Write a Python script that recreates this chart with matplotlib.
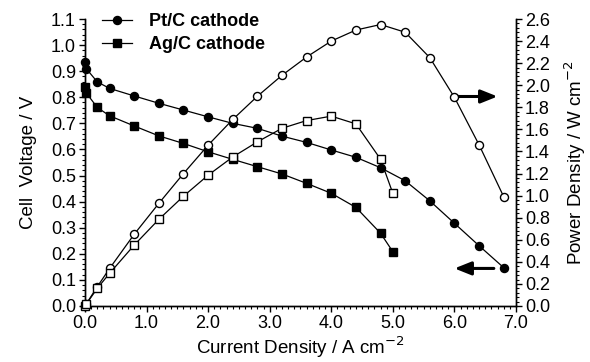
import matplotlib
matplotlib.use("Agg")
import matplotlib.pyplot as plt
from matplotlib.ticker import MultipleLocator, FormatStrFormatter

plt.rcParams['font.family'] = ['Liberation Sans', 'DejaVu Sans']

# Pt/C cathode
pt_current = [0.0, 0.02, 0.2, 0.4, 0.8, 1.2, 1.6, 2.0, 2.4, 2.8, 3.2, 3.6, 4.0, 4.4, 4.8, 5.2, 5.6, 6.0, 6.4, 6.8]
pt_voltage = [0.936, 0.91, 0.859, 0.834, 0.805, 0.777, 0.751, 0.725, 0.70, 0.681, 0.651, 0.627, 0.598, 0.570, 0.530, 0.480, 0.403, 0.317, 0.231, 0.147]
pt_power = [0.0, 0.018, 0.175, 0.34, 0.65, 0.93, 1.20, 1.457, 1.69, 1.90, 2.09, 2.256, 2.40, 2.50, 2.55, 2.48, 2.25, 1.89, 1.46, 0.99]

# Ag/C cathode
ag_current = [0.0, 0.02, 0.2, 0.4, 0.8, 1.2, 1.6, 2.0, 2.4, 2.8, 3.2, 3.6, 4.0, 4.4, 4.8, 5.0]
ag_voltage = [0.838, 0.817, 0.761, 0.729, 0.690, 0.652, 0.623, 0.591, 0.562, 0.534, 0.506, 0.470, 0.432, 0.378, 0.279, 0.208]
ag_power = [0.0, 0.016, 0.16, 0.296, 0.552, 0.785, 0.995, 1.185, 1.35, 1.487, 1.61, 1.68, 1.72, 1.65, 1.33, 1.02]

fig = plt.figure(figsize=(5.9, 3.62), dpi=100)
ax = fig.add_axes([0.144, 0.1547, 0.8746 - 0.144, 0.9475 - 0.1547])
ax2 = ax.twinx()

lw = 0.9
ms = 5.8
ax.plot(pt_current, pt_voltage, '-o', color='black', lw=lw, ms=ms, label='Pt/C cathode', clip_on=False, zorder=3)
ax.plot(ag_current, ag_voltage, '-s', color='black', lw=lw, ms=ms, label='Ag/C cathode', clip_on=False, zorder=3)
ax2.plot(pt_current, pt_power, '-o', color='black', lw=lw, ms=ms, mfc='white', clip_on=False, zorder=3)
ax2.plot(ag_current, ag_power, '-s', color='black', lw=lw, ms=ms, mfc='white', clip_on=False, zorder=3)

ax.set_xlim(0, 7)
ax.set_ylim(0, 1.1)
ax2.set_ylim(0, 2.6)

ax.xaxis.set_major_locator(MultipleLocator(1.0))
ax.xaxis.set_minor_locator(MultipleLocator(0.1))
ax.xaxis.set_major_formatter(FormatStrFormatter('%.1f'))
ax.yaxis.set_major_locator(MultipleLocator(0.1))
ax.yaxis.set_minor_locator(MultipleLocator(0.02))
ax.yaxis.set_major_formatter(FormatStrFormatter('%.1f'))
ax2.yaxis.set_major_locator(MultipleLocator(0.2))
ax2.yaxis.set_minor_locator(MultipleLocator(0.04))
ax2.yaxis.set_major_formatter(FormatStrFormatter('%.1f'))

for a in (ax, ax2):
    a.spines['top'].set_visible(False)
    for s in a.spines.values():
        s.set_linewidth(1.0)
    a.tick_params(which='major', direction='out', length=4.5, width=1.0, labelsize=13, pad=2)
    a.tick_params(which='minor', direction='out', length=2.5, width=0.8)

ax.set_xlabel('Current Density / A cm$^{-2}$', fontsize=13.5, labelpad=2)
ax.set_ylabel('Cell  Voltage / V', fontsize=13.5, labelpad=10)
ax2.set_ylabel('Power Density / W cm$^{-2}$', fontsize=13.5, labelpad=9)

# Arrows indicating which axis each curve set belongs to
arrow_kw = dict(arrowstyle='-|>,head_length=1.0,head_width=0.4', color='black', lw=2.2, shrinkA=0, shrinkB=0)
ax.annotate('', xy=(6.70, 0.803), xytext=(5.97, 0.803), arrowprops=arrow_kw)
ax.annotate('', xy=(6.00, 0.144), xytext=(6.64, 0.144), arrowprops=arrow_kw)

leg = ax.legend(loc='upper left', bbox_to_anchor=(0.022, 1.045), frameon=False,
                prop={'weight': 'bold', 'size': 13}, handlelength=1.67,
                handletextpad=0.94, labelspacing=0.33, borderaxespad=0.0)

fig.savefig('out.png', dpi=100)
